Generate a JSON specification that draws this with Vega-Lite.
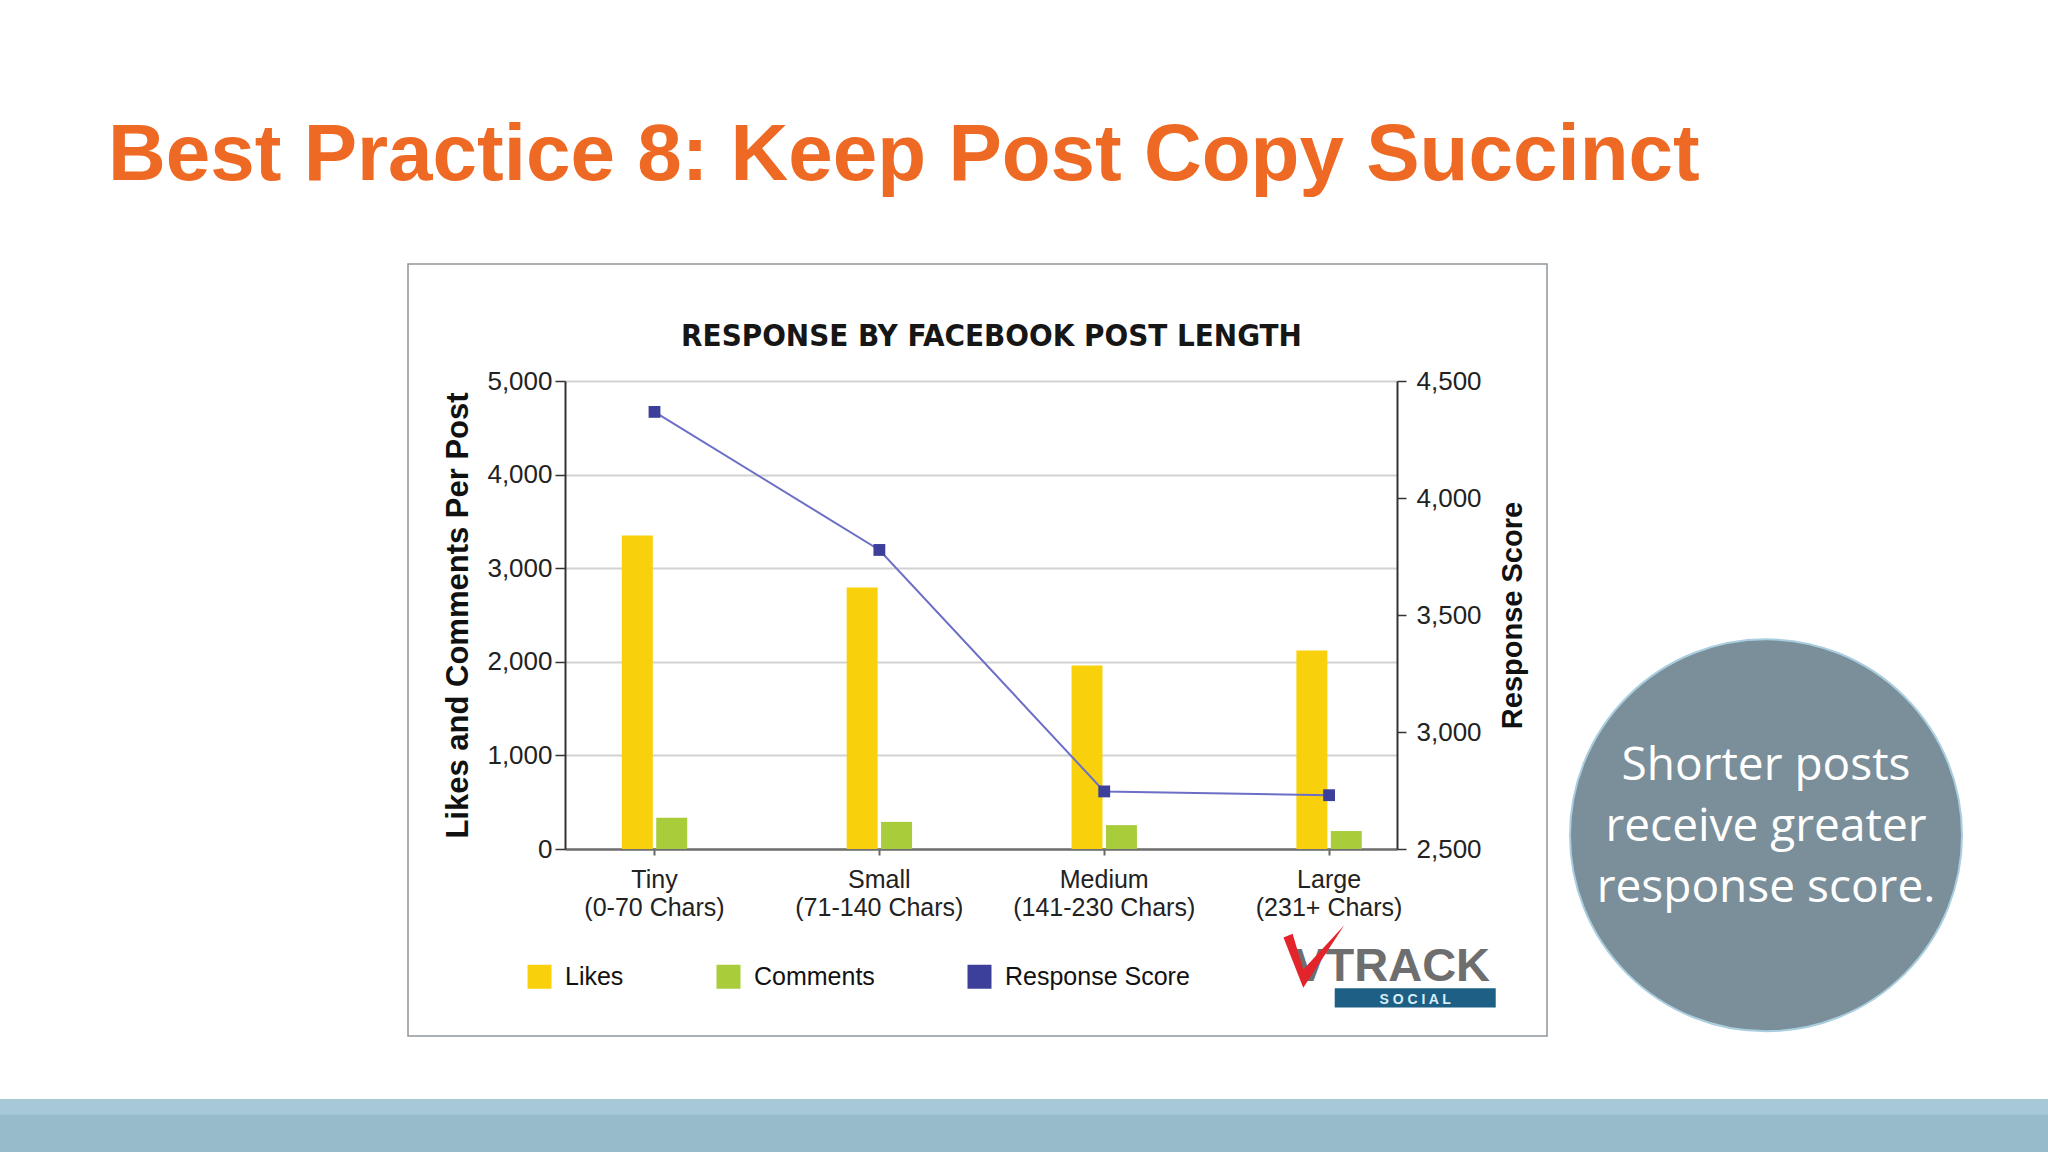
{
  "$schema": "https://vega.github.io/schema/vega-lite/v6.json",
  "padding": {"top": 116, "left": 0, "right": 0, "bottom": 0},
  "autosize": {"type": "pad"},
  "background": "white",
  "title": {
    "text": "Best Practice 8: Keep Post Copy Succinct",
    "anchor": "start",
    "frame": "group",
    "dx": 108,
    "fontSize": 80,
    "font": "Liberation Sans",
    "fontWeight": "bold",
    "color": "#EE6A24",
    "baseline": "alphabetic",
    "offset": 3
  },
  "config": {"view": {"stroke": null}, "font": "Liberation Sans"},
  "datasets": {
    "bars": [
      {"size": "Tiny", "series": "Likes", "value": 3350},
      {"size": "Tiny", "series": "Comments", "value": 335},
      {"size": "Small", "series": "Likes", "value": 2795},
      {"size": "Small", "series": "Comments", "value": 290},
      {"size": "Medium", "series": "Likes", "value": 1960},
      {"size": "Medium", "series": "Comments", "value": 255},
      {"size": "Large", "series": "Likes", "value": 2120},
      {"size": "Large", "series": "Comments", "value": 192}
    ],
    "score": [
      {"size": "Tiny", "score": 4368},
      {"size": "Small", "score": 3778},
      {"size": "Medium", "score": 2746},
      {"size": "Large", "score": 2730}
    ],
    "one": [{}]
  },
  "spacing": 62,
  "vconcat": [
    {
      "spacing": 0,
      "hconcat": [
        {
          "width": 407,
          "height": 772,
          "data": {"name": "one"},
          "mark": {"type": "rect", "opacity": 0},
          "encoding": {}
        },
        {
          "width": 1139,
          "height": 772,
          "view": {"stroke": "#8E969B", "strokeWidth": 1.5},
          "title": {
            "text": "RESPONSE BY FACEBOOK POST LENGTH",
            "font": "'Liberation Sans Narrow', 'DejaVu Sans Condensed', sans-serif",
            "fontSize": 31,
            "fontWeight": "bold",
            "color": "#161616",
            "anchor": "middle",
            "baseline": "alphabetic",
            "offset": -113,
            "dx": 14
          },
          "resolve": {"scale": {"y": "independent"}},
          "layer": [
            {
              "data": {"name": "bars"},
              "mark": {"type": "bar"},
              "encoding": {
                "x": {
                  "field": "size",
                  "type": "nominal",
                  "sort": ["Tiny", "Small", "Medium", "Large"],
                  "scale": {"range": [157, 989], "paddingInner": 0.7, "paddingOuter": 0.2, "align": 0.62},
                  "axis": {
                    "orient": "bottom",
                    "offset": -187,
                    "title": null,
                    "labelAngle": 0,
                    "labelLimit": 400,
                    "labelExpr": "[datum.value, {'Tiny': '(0-70 Chars)', 'Small': '(71-140 Chars)', 'Medium': '(141-230 Chars)', 'Large': '(231+ Chars)'}[datum.value]]",
                    "labelFontSize": 25,
                    "labelLineHeight": 28,
                    "labelPadding": 12,
                    "labelColor": "#222",
                    "tickSize": 6,
                    "tickColor": "#666",
                    "tickWidth": 2,
                    "domainColor": "#707070",
                    "domainWidth": 2.5,
                    "grid": false
                  }
                },
                "xOffset": {
                  "field": "series",
                  "sort": ["Likes", "Comments"],
                  "scale": {"paddingInner": 0.1, "paddingOuter": 0.03}
                },
                "y": {
                  "field": "value",
                  "type": "quantitative",
                  "scale": {"domain": [0, 5000], "range": [585, 117], "nice": false},
                  "axis": {
                    "orient": "left",
                    "offset": -157,
                    "values": [0, 1000, 2000, 3000, 4000, 5000],
                    "format": ",d",
                    "labelFontSize": 26,
                    "labelColor": "#222",
                    "labelPadding": 3,
                    "tickSize": 10,
                    "tickColor": "#333",
                    "tickWidth": 1.5,
                    "domainColor": "#333",
                    "domainWidth": 2,
                    "grid": true,
                    "gridColor": "#D2D2D2",
                    "gridWidth": 2,
                    "title": "Likes and Comments Per Post",
                    "titleFontSize": 31,
                    "titleFontWeight": "bold",
                    "titleColor": "#111",
                    "titlePadding": 12
                  }
                },
                "color": {
                  "field": "series",
                  "type": "nominal",
                  "scale": {
                    "domain": ["Likes", "Comments", "Response Score"],
                    "range": ["#F9D00C", "#A9CC3B", "#3D409B"]
                  },
                  "legend": {
                    "title": null,
                    "orient": "none",
                    "legendX": 527,
                    "legendY": 700,
                    "direction": "horizontal",
                    "columns": 3,
                    "padding": 0,
                    "symbolType": "square",
                    "symbolSize": 576,
                    "symbolOpacity": 1,
                    "symbolStrokeWidth": 0,
                    "labelFontSize": 25,
                    "labelColor": "#111",
                    "labelOffset": 13,
                    "labelLimit": 400,
                    "columnPadding": 92
                  }
                }
              }
            },
            {
              "data": {"name": "score"},
              "mark": {"type": "line", "color": "#6D6FC6", "strokeWidth": 2},
              "encoding": {
                "x": {"field": "size", "type": "nominal", "sort": ["Tiny", "Small", "Medium", "Large"]},
                "y": {
                  "field": "score",
                  "type": "quantitative",
                  "scale": {"domain": [2500, 4500], "range": [585, 117], "nice": false},
                  "axis": {
                    "orient": "right",
                    "offset": -150,
                    "values": [2500, 3000, 3500, 4000, 4500],
                    "format": ",d",
                    "labelFontSize": 26,
                    "labelColor": "#222",
                    "labelPadding": 10,
                    "tickSize": 9,
                    "tickColor": "#333",
                    "tickWidth": 1.5,
                    "domainColor": "#333",
                    "domainWidth": 2,
                    "grid": false,
                    "title": "Response Score",
                    "titleAngle": 270,
                    "titleFontSize": 29,
                    "titleFontWeight": "bold",
                    "titleColor": "#111",
                    "titleX": 115,
                    "titleBaseline": "middle",
                    "titleAlign": "center"
                  }
                }
              }
            },
            {
              "data": {"name": "score"},
              "mark": {"type": "point", "shape": "square", "filled": true, "size": 140, "opacity": 1},
              "encoding": {
                "x": {"field": "size", "type": "nominal", "sort": ["Tiny", "Small", "Medium", "Large"]},
                "y": {
                  "field": "score",
                  "type": "quantitative",
                  "scale": {"domain": [2500, 4500], "range": [585, 117], "nice": false},
                  "axis": null
                },
                "color": {"datum": "Response Score"}
              }
            },
            {
              "data": {"name": "one"},
              "mark": {"type": "text", "text": "VTRACK", "font": "Liberation Sans", "fontWeight": "bold", "fontSize": 47, "color": "#6E6E6E", "align": "center", "baseline": "middle", "dx": 63},
              "encoding": {
                "x": {"datum": "Large", "type": "nominal", "sort": ["Tiny", "Small", "Medium", "Large"]},
                "y": {"datum": -1261, "type": "quantitative", "scale": {"domain": [0, 5000], "range": [585, 117], "nice": false}, "axis": null}
              }
            },
            {
              "data": {"name": "one"},
              "mark": {"type": "point", "shape": "M-1.5,-0.6L-1.2,-0.72L-0.85,0.45L0.5,-1L-0.85,1.05Z", "filled": true, "size": 3700, "color": "#E3242B", "opacity": 1},
              "encoding": {
                "x": {"datum": "Large", "type": "nominal", "sort": ["Tiny", "Small", "Medium", "Large"]},
                "y": {"datum": -1140, "type": "quantitative", "scale": {"domain": [0, 5000], "range": [585, 117], "nice": false}, "axis": null}
              }
            },
            {
              "data": {"name": "one"},
              "mark": {"type": "point", "shape": "M0.07,-0.12H2.07V0.12H0.07Z", "filled": true, "size": 25921, "color": "#1E5F85", "opacity": 1},
              "encoding": {
                "x": {"datum": "Large", "type": "nominal", "sort": ["Tiny", "Small", "Medium", "Large"]},
                "y": {"datum": -1590, "type": "quantitative", "scale": {"domain": [0, 5000], "range": [585, 117], "nice": false}, "axis": null}
              }
            },
            {
              "data": {"name": "one"},
              "mark": {"type": "text", "text": "S    O    C    I    A    L", "font": "Liberation Sans", "fontWeight": "bold", "fontSize": 14, "color": "#D9EEF7", "align": "center", "baseline": "middle", "dx": 86},
              "encoding": {
                "x": {"datum": "Large", "type": "nominal", "sort": ["Tiny", "Small", "Medium", "Large"]},
                "y": {"datum": -1608, "type": "quantitative", "scale": {"domain": [0, 5000], "range": [585, 117], "nice": false}, "axis": null}
              }
            }
          ]
        },
        {
          "width": 436,
          "height": 772,
          "data": {"name": "one"},
          "layer": [
            {
              "mark": {"type": "point", "shape": "circle", "filled": true, "size": 153664, "fill": "#7B8F9A", "stroke": "#A9CEDF", "strokeWidth": 2, "opacity": 1},
              "encoding": {
                "x": {"datum": 0.5, "type": "quantitative", "scale": {"domain": [0, 1]}, "axis": null},
                "y": {"datum": 0.26, "type": "quantitative", "scale": {"domain": [0, 1]}, "axis": null}
              }
            },
            {
              "mark": {"type": "text", "text": ["Shorter posts", "receive greater", "response score."], "font": "Open Sans", "fontSize": 46, "lineHeight": 61, "color": "white", "align": "center", "baseline": "middle", "dy": -69},
              "encoding": {
                "x": {"datum": 0.5, "type": "quantitative", "scale": {"domain": [0, 1]}, "axis": null},
                "y": {"datum": 0.26, "type": "quantitative", "scale": {"domain": [0, 1]}, "axis": null}
              }
            }
          ]
        }
      ]
    },
    {
      "width": 2048,
      "height": 54,
      "data": {"name": "one"},
      "layer": [
        {
          "mark": {"type": "rect", "color": "#97BBCB"},
          "encoding": {
            "x": {"datum": 0, "type": "quantitative", "scale": {"domain": [0, 1]}, "axis": null},
            "x2": {"datum": 1},
            "y": {"datum": 0, "type": "quantitative", "scale": {"domain": [0, 1]}, "axis": null},
            "y2": {"datum": 1}
          }
        },
        {
          "mark": {"type": "rect", "color": "#A7C9D7"},
          "encoding": {
            "x": {"datum": 0, "type": "quantitative", "scale": {"domain": [0, 1]}, "axis": null},
            "x2": {"datum": 1},
            "y": {"datum": 0.71, "type": "quantitative", "scale": {"domain": [0, 1]}, "axis": null},
            "y2": {"datum": 1}
          }
        }
      ]
    }
  ]
}
